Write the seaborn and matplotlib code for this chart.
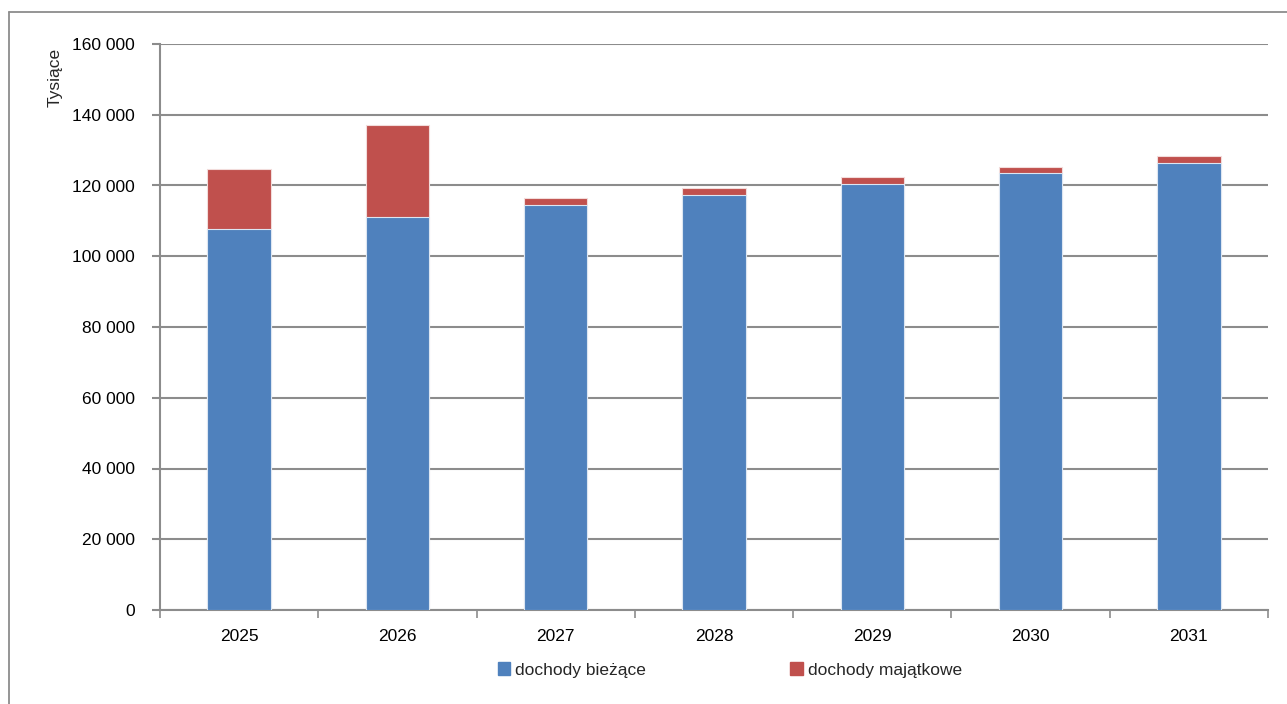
import matplotlib
matplotlib.use("Agg")
import matplotlib.pyplot as plt
import seaborn as sns
import pandas as pd
from matplotlib.lines import Line2D
from matplotlib.patches import Patch

years = ["2025", "2026", "2027", "2028", "2029", "2030", "2031"]
biezace = [107700, 111100, 114500, 117300, 120500, 123500, 126500]
majatkowe = [17050, 26000, 1900, 2000, 1800, 1700, 1700]
yticks = [0, 20000, 40000, 60000, 80000, 100000, 120000, 140000, 160000]
ytick_labels = ["0", "20 000", "40 000", "60 000", "80 000", "100 000", "120 000", "140 000", "160 000"]

blue = "#4F81BD"
red = "#C0504D"
grid = "#8C8C8C"

sns.set_theme(style="white")
plt.rcParams['font.family'] = ['Liberation Sans', 'DejaVu Sans']

df = pd.DataFrame({"year": years, "biezace": biezace, "majatkowe": majatkowe})
df["total"] = df["biezace"] + df["majatkowe"]

fig = plt.figure(figsize=(12.87, 7.04), dpi=100)
ax = fig.add_axes([160/1287, 94/704, 1108/1287, 566/704])

sns.barplot(data=df, x="year", y="total", color=red, width=0.40, ax=ax,
            saturation=1, edgecolor="#F2DCDB", linewidth=0.8, zorder=3)
sns.barplot(data=df, x="year", y="biezace", color=blue, width=0.40, ax=ax,
            saturation=1, edgecolor="#DCE6F2", linewidth=0.8, zorder=4)

ax.set_ylim(0, 160000)
ax.set_xlim(-0.5, 6.5)
ax.set_yticks(yticks)
ax.set_yticklabels(ytick_labels, fontsize=12.5, color="#000000")
ax.set_xticks(range(len(years)))
ax.set_xticklabels(years, fontsize=12.5, color="#000000")
ax.set_xlabel("")
ax.set_ylabel("")

ax.grid(axis="y", color=grid, linewidth=1.5, zorder=0)
ax.set_axisbelow(True)
for s in ["top", "right"]:
    ax.spines[s].set_visible(False)
for s in ["left", "bottom"]:
    ax.spines[s].set_color(grid)
    ax.spines[s].set_linewidth(1.5)

ax.tick_params(axis="y", which="major", length=6, width=1.5, color=grid, direction="out", pad=12, left=True)
ax.tick_params(axis="x", which="major", length=0, pad=14)
ax.set_xticks([i - 0.5 for i in range(len(years) + 1)], minor=True)
ax.tick_params(axis="x", which="minor", length=6, width=1.2, color=grid, direction="out", bottom=True)

fig.text(55/1287, 1 - 48/704, "Tysiące", rotation=90, ha="center", va="top", fontsize=12.5)

handles = [Patch(facecolor=blue, edgecolor=blue, label="dochody bieżące"),
           Patch(facecolor=red, edgecolor=red, label="dochody majątkowe")]
fig.legend(handles=handles, loc="center", bbox_to_anchor=(730/1287, 1 - 670/704), ncol=2,
           frameon=False, fontsize=12.5, handlelength=0.7, handleheight=0.7,
           handletextpad=0.3, columnspacing=8.3)

fig.add_artist(Line2D([9/1287, 1], [1 - 12/704, 1 - 12/704], transform=fig.transFigure, color="#8C8C8C", linewidth=1.3))
fig.add_artist(Line2D([9/1287, 9/1287], [0, 1 - 12/704], transform=fig.transFigure, color="#8C8C8C", linewidth=1.3))

fig.savefig("out.png", dpi=100)
